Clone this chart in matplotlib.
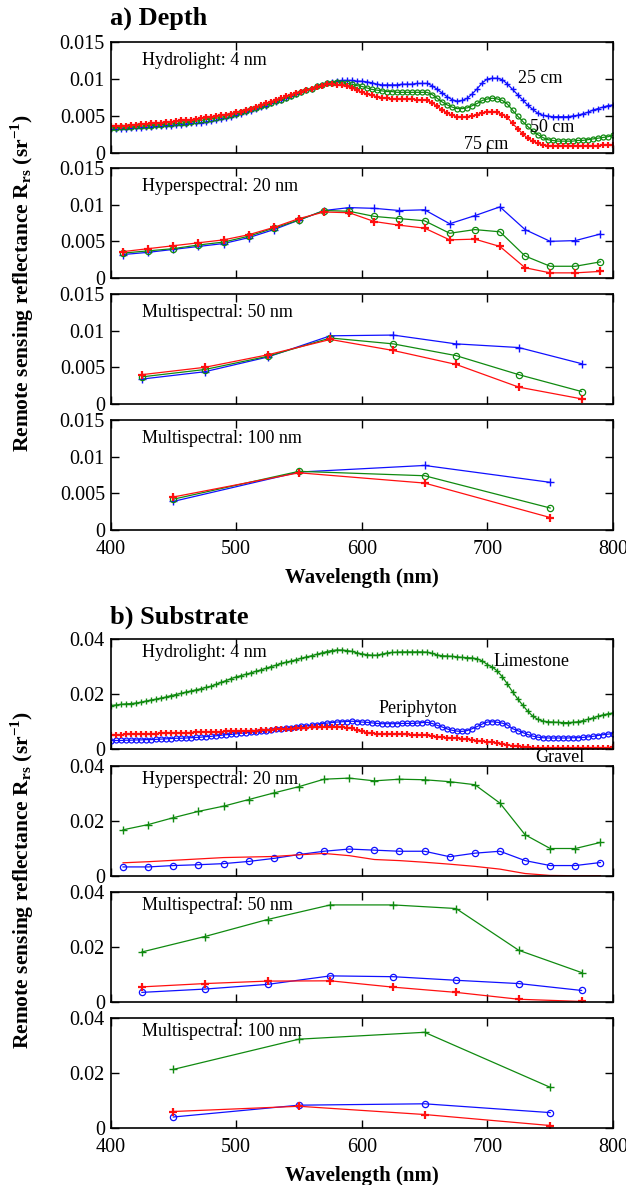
import numpy as np
import matplotlib
matplotlib.use("Agg")
import matplotlib.pyplot as plt
from matplotlib.ticker import FuncFormatter

plt.rcParams['font.family'] = ['Liberation Serif', 'DejaVu Serif']
plt.rcParams['mathtext.fontset'] = 'custom'
plt.rcParams['mathtext.rm'] = 'Liberation Serif'
plt.rcParams['mathtext.bf'] = 'Liberation Serif:bold'

# ---------------- data ----------------
wl_4 = np.arange(400, 801, 4)
wl_20 = [410, 430, 450, 470, 490, 510, 530, 550, 570, 590,
         610, 630, 650, 670, 690, 710, 730, 750, 770, 790]
wl_50 = [425, 475, 525, 575, 625, 675, 725, 775]
wl_100 = [450, 550, 650, 750]

# a) depth, Hydrolight 4 nm
d25_4 = [0.0032, 0.0032, 0.0033, 0.0033, 0.0034, 0.0034, 0.0034, 0.0035, 0.0035, 0.0036,
         0.0036, 0.0037, 0.0037, 0.0038, 0.0038, 0.0039, 0.0040, 0.0040, 0.0041, 0.0042,
         0.0043, 0.0044, 0.0046, 0.0047, 0.0049, 0.0051, 0.0053, 0.0055, 0.0057, 0.0060,
         0.0062, 0.0064, 0.0067, 0.0069, 0.0072, 0.0074, 0.0077, 0.0080, 0.0082, 0.0085,
         0.0087, 0.0090, 0.0092, 0.0094, 0.0096, 0.0097, 0.0098, 0.0098, 0.0098, 0.0097,
         0.0097, 0.0096, 0.0095, 0.0093, 0.0092, 0.0092, 0.0092, 0.0092, 0.0093, 0.0093,
         0.0093, 0.0094, 0.0094, 0.0094, 0.0091, 0.0086, 0.0081, 0.0076, 0.0072, 0.0070,
         0.0071, 0.0074, 0.0080, 0.0087, 0.0095, 0.0100, 0.0101, 0.0101, 0.0099, 0.0093,
         0.0086, 0.0079, 0.0072, 0.0065, 0.0059, 0.0054, 0.0051, 0.0050, 0.0049, 0.0049,
         0.0049, 0.0049, 0.0050, 0.0051, 0.0053, 0.0055, 0.0058, 0.0060, 0.0062, 0.0064,
         0.0065]
d50_4 = [0.0034, 0.0034, 0.0035, 0.0035, 0.0035, 0.0036, 0.0036, 0.0037, 0.0037, 0.0038,
         0.0038, 0.0039, 0.0039, 0.0040, 0.0040, 0.0041, 0.0042, 0.0043, 0.0044, 0.0045,
         0.0046, 0.0047, 0.0048, 0.0050, 0.0051, 0.0053, 0.0055, 0.0057, 0.0059, 0.0061,
         0.0063, 0.0065, 0.0068, 0.0070, 0.0072, 0.0075, 0.0077, 0.0080, 0.0082, 0.0085,
         0.0087, 0.0090, 0.0092, 0.0094, 0.0095, 0.0096, 0.0095, 0.0094, 0.0093, 0.0091,
         0.0090, 0.0088, 0.0086, 0.0085, 0.0084, 0.0083, 0.0083, 0.0082, 0.0082, 0.0082,
         0.0082, 0.0082, 0.0082, 0.0082, 0.0079, 0.0074, 0.0069, 0.0065, 0.0062, 0.0060,
         0.0060, 0.0061, 0.0064, 0.0067, 0.0071, 0.0073, 0.0074, 0.0073, 0.0071, 0.0066,
         0.0058, 0.0050, 0.0043, 0.0036, 0.0030, 0.0025, 0.0021, 0.0018, 0.0017, 0.0016,
         0.0016, 0.0016, 0.0016, 0.0017, 0.0017, 0.0018, 0.0019, 0.0020, 0.0021, 0.0022,
         0.0024]
d75_4 = [0.0036, 0.0036, 0.0037, 0.0037, 0.0038, 0.0038, 0.0039, 0.0039, 0.0040, 0.0040,
         0.0041, 0.0042, 0.0042, 0.0043, 0.0044, 0.0044, 0.0045, 0.0046, 0.0047, 0.0048,
         0.0049, 0.0050, 0.0051, 0.0052, 0.0053, 0.0055, 0.0056, 0.0058, 0.0060, 0.0062,
         0.0065, 0.0067, 0.0069, 0.0072, 0.0074, 0.0077, 0.0079, 0.0081, 0.0083, 0.0085,
         0.0087, 0.0089, 0.0091, 0.0093, 0.0093, 0.0092, 0.0092, 0.0090, 0.0088, 0.0085,
         0.0082, 0.0080, 0.0078, 0.0076, 0.0075, 0.0074, 0.0073, 0.0073, 0.0073, 0.0073,
         0.0073, 0.0072, 0.0072, 0.0071, 0.0068, 0.0063, 0.0058, 0.0054, 0.0051, 0.0049,
         0.0049, 0.0049, 0.0050, 0.0052, 0.0054, 0.0056, 0.0056, 0.0055, 0.0052, 0.0048,
         0.0040, 0.0033, 0.0026, 0.0020, 0.0016, 0.0013, 0.0011, 0.0010, 0.0009, 0.0009,
         0.0009, 0.0009, 0.0009, 0.0009, 0.0010, 0.0010, 0.0010, 0.0010, 0.0011, 0.0011,
         0.0011]

# a) depth, Hyperspectral 20 nm
d25_20 = [0.0032, 0.0035, 0.0039, 0.0043, 0.0047, 0.0055, 0.0066, 0.0079, 0.0092, 0.0096,
          0.0095, 0.0092, 0.0093, 0.0074, 0.0085, 0.0097, 0.0066, 0.0050, 0.0051, 0.0060]
d50_20 = [0.0034, 0.0037, 0.0040, 0.0045, 0.0049, 0.0057, 0.0068, 0.0079, 0.0092, 0.0091,
          0.0084, 0.0081, 0.0078, 0.0061, 0.0066, 0.0063, 0.0030, 0.0016, 0.0016, 0.0022]
d75_20 = [0.0036, 0.0040, 0.0044, 0.0048, 0.0052, 0.0059, 0.0069, 0.0081, 0.0090, 0.0089,
          0.0077, 0.0072, 0.0068, 0.0052, 0.0053, 0.0043, 0.0014, 0.0007, 0.0007, 0.0009]

# a) depth, Multispectral 50 nm
d25_50 = [0.0034, 0.0044, 0.0064, 0.0093, 0.0094, 0.0082, 0.0077, 0.0055]
d50_50 = [0.0037, 0.0047, 0.0065, 0.0090, 0.0082, 0.0066, 0.0040, 0.0017]
d75_50 = [0.0040, 0.0050, 0.0067, 0.0088, 0.0073, 0.0054, 0.0023, 0.0007]

# a) depth, Multispectral 100 nm
d25_100 = [0.0039, 0.0079, 0.0088, 0.0065]
d50_100 = [0.0042, 0.0080, 0.0074, 0.0030]
d75_100 = [0.0045, 0.0078, 0.0064, 0.0017]

# b) substrate, Hydrolight 4 nm
lime_4 = [0.0158, 0.0160, 0.0162, 0.0164, 0.0165, 0.0167, 0.0170, 0.0174, 0.0178, 0.0181,
          0.0185, 0.0189, 0.0194, 0.0198, 0.0202, 0.0207, 0.0211, 0.0215, 0.0219, 0.0224,
          0.0228, 0.0235, 0.0242, 0.0249, 0.0256, 0.0262, 0.0267, 0.0272, 0.0277, 0.0283,
          0.0288, 0.0294, 0.0300, 0.0305, 0.0311, 0.0316, 0.0320, 0.0325, 0.0330, 0.0335,
          0.0339, 0.0344, 0.0349, 0.0354, 0.0358, 0.0360, 0.0360, 0.0358, 0.0355, 0.0350,
          0.0346, 0.0343, 0.0341, 0.0341, 0.0345, 0.0349, 0.0351, 0.0352, 0.0353, 0.0353,
          0.0353, 0.0353, 0.0353, 0.0352, 0.0348, 0.0342, 0.0339, 0.0338, 0.0337, 0.0335,
          0.0333, 0.0332, 0.0331, 0.0328, 0.0320, 0.0307, 0.0298, 0.0283, 0.0262, 0.0236,
          0.0208, 0.0183, 0.0160, 0.0138, 0.0120, 0.0108, 0.0102, 0.0099, 0.0098, 0.0097,
          0.0096, 0.0096, 0.0097, 0.0099, 0.0103, 0.0108, 0.0113, 0.0119, 0.0124, 0.0128,
          0.0131]
peri_4 = [0.0030, 0.0031, 0.0031, 0.0032, 0.0032, 0.0033, 0.0033, 0.0034, 0.0034, 0.0035,
          0.0036, 0.0037, 0.0038, 0.0039, 0.0039, 0.0040, 0.0041, 0.0042, 0.0043, 0.0045,
          0.0046, 0.0048, 0.0050, 0.0052, 0.0053, 0.0055, 0.0057, 0.0059, 0.0061, 0.0062,
          0.0064, 0.0066, 0.0069, 0.0071, 0.0074, 0.0076, 0.0078, 0.0080, 0.0082, 0.0084,
          0.0086, 0.0089, 0.0092, 0.0094, 0.0096, 0.0098, 0.0099, 0.0100, 0.0101, 0.0100,
          0.0098, 0.0097, 0.0095, 0.0093, 0.0092, 0.0092, 0.0092, 0.0092, 0.0093, 0.0093,
          0.0093, 0.0094, 0.0096, 0.0097, 0.0093, 0.0086, 0.0080, 0.0073, 0.0068, 0.0065,
          0.0064, 0.0067, 0.0074, 0.0082, 0.0091, 0.0098, 0.0099, 0.0097, 0.0094, 0.0087,
          0.0074, 0.0067, 0.0060, 0.0053, 0.0047, 0.0043, 0.0041, 0.0040, 0.0040, 0.0040,
          0.0040, 0.0040, 0.0041, 0.0041, 0.0042, 0.0044, 0.0046, 0.0049, 0.0052, 0.0054,
          0.0056]
grav_4 = [0.0050, 0.0051, 0.0052, 0.0053, 0.0053, 0.0054, 0.0055, 0.0055, 0.0056, 0.0056,
          0.0057, 0.0057, 0.0058, 0.0058, 0.0059, 0.0059, 0.0060, 0.0061, 0.0061, 0.0062,
          0.0063, 0.0063, 0.0063, 0.0064, 0.0064, 0.0064, 0.0065, 0.0066, 0.0066, 0.0067,
          0.0068, 0.0069, 0.0070, 0.0071, 0.0072, 0.0073, 0.0074, 0.0075, 0.0076, 0.0077,
          0.0079, 0.0080, 0.0080, 0.0080, 0.0080, 0.0080, 0.0079, 0.0078, 0.0075, 0.0068,
          0.0064, 0.0060, 0.0057, 0.0056, 0.0055, 0.0055, 0.0054, 0.0054, 0.0053, 0.0053,
          0.0052, 0.0052, 0.0051, 0.0050, 0.0048, 0.0044, 0.0042, 0.0041, 0.0040, 0.0039,
          0.0038, 0.0036, 0.0033, 0.0030, 0.0028, 0.0025, 0.0024, 0.0022, 0.0019, 0.0015,
          0.0012, 0.0010, 0.0008, 0.0006, 0.0005, 0.0004, 0.0004, 0.0004, 0.0004, 0.0004,
          0.0004, 0.0004, 0.0004, 0.0004, 0.0004, 0.0004, 0.0004, 0.0005, 0.0005, 0.0005,
          0.0006]

# b) substrate, Hyperspectral 20 nm
lime_20 = [0.0168, 0.0187, 0.0212, 0.0235, 0.0254, 0.0278, 0.0302, 0.0325, 0.0352, 0.0356,
           0.0346, 0.0352, 0.0350, 0.0343, 0.0332, 0.0265, 0.0150, 0.0100, 0.0100, 0.0122]
peri_20 = [0.0033, 0.0033, 0.0038, 0.0041, 0.0045, 0.0053, 0.0064, 0.0078, 0.0090, 0.0098,
           0.0094, 0.0090, 0.0090, 0.0070, 0.0083, 0.0090, 0.0056, 0.0038, 0.0038, 0.0049]
grav_20 = [0.0048, 0.0052, 0.0057, 0.0062, 0.0067, 0.0069, 0.0071, 0.0077, 0.0082, 0.0074,
           0.0060, 0.0056, 0.0050, 0.0043, 0.0035, 0.0025, 0.0009, 0.0002, 0.0001, 0.0001]

# b) substrate, Multispectral 50 nm
lime_50 = [0.0182, 0.0238, 0.0300, 0.0353, 0.0353, 0.0340, 0.0188, 0.0107]
peri_50 = [0.0035, 0.0047, 0.0064, 0.0095, 0.0092, 0.0079, 0.0067, 0.0042]
grav_50 = [0.0055, 0.0067, 0.0076, 0.0077, 0.0054, 0.0035, 0.0010, 0.0002]

# b) substrate, Multispectral 100 nm
lime_100 = [0.0213, 0.0323, 0.0348, 0.0148]
peri_100 = [0.0040, 0.0083, 0.0088, 0.0056]
grav_100 = [0.0060, 0.0079, 0.0049, 0.0009]

panel_names = ["Hydrolight: 4 nm", "Hyperspectral: 20 nm",
               "Multispectral: 50 nm", "Multispectral: 100 nm"]

BLUE = '#1010ff'
GREEN = '#108a10'
RED = '#ff1010'

# ---------------- layout ----------------
W, H = 626, 1185
fig = plt.figure(figsize=(W / 100, H / 100), dpi=100)
left_px, right_px = 110.5, 613

def make_ax(top, bottom):
    return fig.add_axes([left_px / W, 1 - bottom / H, (right_px - left_px) / W, (bottom - top) / H])

def style_ax(ax, ymax, yticks, show_x):
    ax.set_xlim(400, 800)
    ax.set_ylim(0, ymax)
    ax.set_xticks([400, 500, 600, 700, 800])
    ax.set_yticks(yticks)
    ax.yaxis.set_major_formatter(FuncFormatter(lambda v, p: '%g' % round(v, 4)))
    ax.tick_params(direction='in', length=6, width=1, top=True, right=True,
                   labelsize=14.5, labelbottom=show_x)
    ax.tick_params(axis='x', pad=7)
    ax.tick_params(axis='y', pad=4)
    for s in ax.spines.values():
        s.set_linewidth(1.2)
    if show_x:
        ax.set_xlabel('Wavelength (nm)', fontsize=15, fontweight='bold', labelpad=7)

ylabel = r'Remote sensing reflectance $\mathbf{R_{rs}}$ (sr$^{\mathbf{-1}}$)'

# ---------------- a) Depth ----------------
depth_boxes = [(42, 153), (168, 278), (294, 404), (420, 530)]
depth_sets = [(wl_4, d25_4, d50_4, d75_4), (wl_20, d25_20, d50_20, d75_20),
              (wl_50, d25_50, d50_50, d75_50), (wl_100, d25_100, d50_100, d75_100)]
fig.text(left_px / W, 1 - 18 / H, 'a) Depth', fontsize=19, fontweight='bold', va='center')
for i, ((t, b), (x, s25, s50, s75)) in enumerate(zip(depth_boxes, depth_sets)):
    ax = make_ax(t, b)
    hyd = i == 0
    ms = 5 if hyd else 6
    ax.plot(x, s25, color=BLUE, lw=0.9, marker='+', ms=ms, mew=1.0)
    ax.plot(x, s50, color=GREEN, lw=0.9, marker='o', ms=3.6 if hyd else 4.5,
            mfc='none', mew=0.9)
    ax.plot(x, s75, color=RED, lw=0.9, marker='+', ms=ms, mew=1.6)
    style_ax(ax, 0.015, [0, 0.005, 0.01, 0.015], i == 3)
    ax.text(0.062, 0.83, panel_names[i], transform=ax.transAxes, fontsize=13, va='center')
    if hyd:
        ax.text(724, 0.0101, '25 cm', fontsize=13, va='center')
        ax.text(734, 0.0034, '50 cm', fontsize=13, va='center')
        ax.text(681, 0.0012, '75 cm', fontsize=13, va='center')

fig.text(22 / W, 1 - 283 / H, ylabel, rotation=90, fontsize=15.5, fontweight='bold',
         ha='center', va='center')

# ---------------- b) Substrate ----------------
sub_boxes = [(639, 749), (766, 876), (892, 1002), (1018, 1128)]
sub_sets = [(wl_4, lime_4, peri_4, grav_4), (wl_20, lime_20, peri_20, grav_20),
            (wl_50, lime_50, peri_50, grav_50), (wl_100, lime_100, peri_100, grav_100)]
fig.text(left_px / W, 1 - 617 / H, 'b) Substrate', fontsize=19, fontweight='bold', va='center')
for i, ((t, b), (x, lime, peri, grav)) in enumerate(zip(sub_boxes, sub_sets)):
    ax = make_ax(t, b)
    hyd = i == 0
    ms = 5 if hyd else 6
    ax.plot(x, lime, color=GREEN, lw=0.9, marker='+', ms=ms, mew=1.0)
    ax.plot(x, peri, color=BLUE, lw=0.9, marker='o', ms=3.6 if hyd else 4.5,
            mfc='none', mew=0.9)
    if i == 1:
        ax.plot(x, grav, color=RED, lw=0.9)
    else:
        ax.plot(x, grav, color=RED, lw=0.9, marker='+', ms=ms, mew=1.6)
    style_ax(ax, 0.04, [0, 0.02, 0.04], i == 3)
    ax.text(0.062, 0.875, panel_names[i], transform=ax.transAxes, fontsize=13, va='center')
    if hyd:
        ax.text(705, 0.032, 'Limestone', fontsize=13, va='center')
        ax.text(613, 0.0147, 'Periphyton', fontsize=13, va='center')
        ax.text(738, -0.003, 'Gravel', fontsize=13, va='center', clip_on=False, zorder=0)

fig.text(22 / W, 1 - 880 / H, ylabel, rotation=90, fontsize=15.5, fontweight='bold',
         ha='center', va='center')

fig.savefig('out.png', dpi=100)
